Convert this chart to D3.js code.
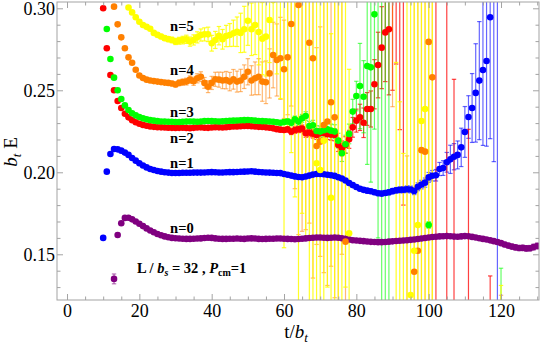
<!DOCTYPE html>
<html><head><meta charset="utf-8">
<script src="https://cdn.jsdelivr.net/npm/d3@7"></script>
<style>body{margin:0;background:#fff}svg{display:block}</style>
</head><body><svg id="c" width="540" height="345"></svg>
<script>
// ---- data: [t/b_t, b_t E, error] ----
const n0 = [[14,0.1618,0.0010],[15,0.1689,0.0008],[16,0.1722,0.0006],[17,0.1723,0.0005],[18,0.1713,0.0005],[19,0.1700,0.0005],[20,0.1686,0.0005],[21,0.1672,0.0005],[22,0.1658,0.0005],[23,0.1645,0.0005],[24,0.1634,0.0005],[25,0.1624,0.0005],[26,0.1616,0.0005],[27,0.1609,0.0005],[28,0.1604,0.0005],[29,0.1600,0.0005],[30,0.1598,0.0005],[31,0.1596,0.0005],[32,0.1595,0.0005],[33,0.1594,0.0005],[34,0.1594,0.0005],[35,0.1595,0.0005],[36,0.1596,0.0005],[37,0.1597,0.0005],[38,0.1599,0.0005],[39,0.1601,0.0005],[40,0.1600,0.0005],[41,0.1597,0.0005],[42,0.1595,0.0005],[43,0.1594,0.0005],[44,0.1594,0.0005],[45,0.1595,0.0005],[46,0.1595,0.0005],[47,0.1596,0.0005],[48,0.1595,0.0005],[49,0.1594,0.0005],[50,0.1596,0.0005],[51,0.1597,0.0005],[52,0.1596,0.0005],[53,0.1594,0.0005],[54,0.1593,0.0005],[55,0.1594,0.0005],[56,0.1595,0.0005],[57,0.1595,0.0005],[58,0.1596,0.0005],[59,0.1596,0.0005],[60,0.1595,0.0006],[61,0.1594,0.0006],[62,0.1593,0.0006],[63,0.1592,0.0006],[64,0.1593,0.0006],[65,0.1595,0.0006],[66,0.1597,0.0006],[67,0.1599,0.0006],[68,0.1601,0.0006],[69,0.1602,0.0006],[70,0.1602,0.0007],[71,0.1601,0.0007],[72,0.1600,0.0007],[73,0.1601,0.0007],[74,0.1602,0.0007],[75,0.1601,0.0007],[76,0.1598,0.0007],[77,0.1594,0.0007],[78,0.1590,0.0007],[79,0.1586,0.0007],[80,0.1584,0.0007],[81,0.1582,0.0007],[82,0.1580,0.0007],[83,0.1578,0.0007],[84,0.1576,0.0007],[85,0.1575,0.0007],[86,0.1574,0.0007],[87,0.1574,0.0007],[88,0.1575,0.0007],[89,0.1577,0.0007],[90,0.1579,0.0008],[91,0.1581,0.0008],[92,0.1583,0.0008],[93,0.1584,0.0008],[94,0.1586,0.0008],[95,0.1588,0.0008],[96,0.1590,0.0008],[97,0.1593,0.0008],[98,0.1596,0.0008],[99,0.1599,0.0008],[100,0.1602,0.0008],[101,0.1605,0.0008],[102,0.1607,0.0008],[103,0.1609,0.0008],[104,0.1610,0.0008],[105,0.1611,0.0009],[106,0.1610,0.0009],[107,0.1608,0.0009],[108,0.1607,0.0009],[109,0.1609,0.0009],[110,0.1611,0.0010],[111,0.1610,0.0010],[112,0.1606,0.0010],[113,0.1602,0.0010],[114,0.1598,0.0010],[115,0.1594,0.0011],[116,0.1590,0.0011],[117,0.1585,0.0012],[118,0.1580,0.0012],[119,0.1575,0.0013],[120,0.1568,0.0013],[121,0.1560,0.0014],[122,0.1553,0.0014],[123,0.1547,0.0015],[124,0.1542,0.0015],[125,0.1538,0.0016],[126,0.1539,0.0016],[127,0.1536,0.0017],[128,0.1537,0.0017],[129,0.1544,0.0018],[130,0.1551,0.0018]];
const n1 = [[10,0.1600,0.0005],[11,0.2004,0.0004],[12,0.2112,0.0004],[13,0.2142,0.0004],[14,0.2140,0.0004],[15,0.2132,0.0004],[16,0.2120,0.0004],[17,0.2106,0.0004],[18,0.2087,0.0004],[19,0.2071,0.0004],[20,0.2055,0.0004],[21,0.2041,0.0004],[22,0.2030,0.0004],[23,0.2020,0.0004],[24,0.2014,0.0004],[25,0.2008,0.0004],[26,0.2004,0.0004],[27,0.2000,0.0005],[28,0.1998,0.0005],[29,0.1996,0.0005],[30,0.1996,0.0005],[31,0.1996,0.0005],[32,0.1997,0.0005],[33,0.1997,0.0005],[34,0.1997,0.0005],[35,0.1998,0.0005],[36,0.1998,0.0005],[37,0.1998,0.0005],[38,0.1999,0.0005],[39,0.2000,0.0005],[40,0.2001,0.0005],[41,0.2000,0.0005],[42,0.1999,0.0005],[43,0.1999,0.0005],[44,0.2000,0.0005],[45,0.2001,0.0005],[46,0.2001,0.0006],[47,0.2002,0.0006],[48,0.2003,0.0006],[49,0.2004,0.0006],[50,0.2005,0.0006],[51,0.2006,0.0006],[52,0.2004,0.0006],[53,0.2002,0.0006],[54,0.2000,0.0006],[55,0.1999,0.0006],[56,0.1998,0.0007],[57,0.1997,0.0007],[58,0.1996,0.0007],[59,0.1995,0.0007],[60,0.1990,0.0007],[61,0.1985,0.0008],[62,0.1980,0.0008],[63,0.1975,0.0008],[64,0.1971,0.0008],[65,0.1970,0.0008],[66,0.1974,0.0008],[67,0.1980,0.0009],[68,0.1986,0.0009],[69,0.1990,0.0009],[70,0.1990,0.0009],[71,0.1988,0.0009],[72,0.1985,0.0010],[73,0.1982,0.0010],[74,0.1978,0.0010],[75,0.1970,0.0010],[76,0.1962,0.0011],[77,0.1950,0.0011],[78,0.1935,0.0011],[79,0.1922,0.0012],[80,0.1910,0.0012],[81,0.1900,0.0012],[82,0.1893,0.0013],[83,0.1888,0.0013],[84,0.1884,0.0013],[85,0.1878,0.0014],[86,0.1872,0.0014],[87,0.1870,0.0015],[88,0.1874,0.0015],[89,0.1878,0.0016],[90,0.1885,0.0016],[91,0.1890,0.0017],[92,0.1893,0.0018],[93,0.1894,0.0019],[94,0.1897,0.0020],[95,0.1895,0.0021],[96,0.1886,0.0022],[97,0.1912,0.0024],[98,0.1925,0.0026],[99,0.1937,0.0028],[100,0.1969,0.0030],[101,0.1979,0.0032],[102,0.1982,0.0035],[103,0.2020,0.0040],[104,0.2026,0.0045],[105,0.2061,0.0060],[106,0.2079,0.0086],[107,0.2095,0.0080],[108,0.2106,0.0085],[109,0.2152,0.0117],[110,0.2246,0.0155],[111,0.2337,0.0130],[112,0.2392,0.0210],[113,0.2484,0.0300],[114,0.2559,0.0360],[115,0.2624,0.0460],[116,0.2679,0.0520],[117,0.2945,0.0740],[118,0.3100,0.1035],[119,0.3300,0.2500]];
const n2 = [[10,0.3000,0.0008],[11,0.2756,0.0006],[12,0.2593,0.0006],[13,0.2500,0.0005],[14,0.2435,0.0005],[15,0.2392,0.0005],[16,0.2357,0.0005],[17,0.2335,0.0005],[18,0.2318,0.0005],[19,0.2305,0.0005],[20,0.2296,0.0005],[21,0.2289,0.0005],[22,0.2284,0.0005],[23,0.2280,0.0005],[24,0.2277,0.0005],[25,0.2275,0.0005],[26,0.2274,0.0005],[27,0.2273,0.0005],[28,0.2272,0.0005],[29,0.2271,0.0005],[30,0.2270,0.0006],[31,0.2271,0.0006],[32,0.2272,0.0006],[33,0.2270,0.0006],[34,0.2269,0.0006],[35,0.2271,0.0006],[36,0.2273,0.0006],[37,0.2274,0.0006],[38,0.2272,0.0006],[39,0.2271,0.0006],[40,0.2273,0.0007],[41,0.2275,0.0007],[42,0.2274,0.0007],[43,0.2273,0.0007],[44,0.2275,0.0007],[45,0.2277,0.0007],[46,0.2279,0.0007],[47,0.2280,0.0008],[48,0.2281,0.0008],[49,0.2282,0.0008],[50,0.2283,0.0008],[51,0.2281,0.0008],[52,0.2279,0.0009],[53,0.2277,0.0009],[54,0.2276,0.0009],[55,0.2274,0.0010],[56,0.2272,0.0010],[57,0.2268,0.0011],[58,0.2263,0.0012],[59,0.2260,0.0013],[60,0.2258,0.0014],[61,0.2262,0.0016],[62,0.2248,0.0018],[63,0.2258,0.0020],[64,0.2262,0.0020],[65,0.2266,0.0022],[66,0.2238,0.0024],[67,0.2242,0.0025],[68,0.2235,0.0026],[69,0.2228,0.0028],[70,0.2238,0.0030],[71,0.2240,0.0030],[72,0.2232,0.0032],[73,0.2230,0.0034],[74,0.2228,0.0036],[75,0.2167,0.0040],[76,0.2146,0.0045],[77,0.2167,0.0050],[78,0.2201,0.0055],[79,0.2274,0.0060],[80,0.2315,0.0070],[81,0.2335,0.0080],[82,0.2302,0.0090],[83,0.2386,0.0100],[84,0.2386,0.0110],[85,0.2537,0.0150],[86,0.2654,0.0200],[87,0.2760,0.0250],[88,0.2853,0.0300],[89,0.2872,0.0400],[90,0.3100,0.0600],[91,0.3100,0.0440],[92,0.3200,0.0940],[93,0.3300,0.1500],[102,0.3300,0.2500],[105,0.3300,0.2500],[107,0.1000,0.1567],[111,0.1000,0.1262],[117,0.1000,0.0368]];
const n3 = [[11,0.2874,0.0006],[12,0.2691,0.0006],[13,0.2577,0.0005],[14,0.2500,0.0005],[15,0.2447,0.0005],[16,0.2408,0.0005],[17,0.2380,0.0005],[18,0.2360,0.0005],[19,0.2347,0.0005],[20,0.2337,0.0005],[21,0.2329,0.0005],[22,0.2323,0.0005],[23,0.2318,0.0005],[24,0.2315,0.0005],[25,0.2312,0.0005],[26,0.2310,0.0005],[27,0.2309,0.0005],[28,0.2308,0.0005],[29,0.2308,0.0005],[30,0.2307,0.0006],[31,0.2307,0.0006],[32,0.2308,0.0006],[33,0.2309,0.0006],[34,0.2310,0.0006],[35,0.2309,0.0006],[36,0.2308,0.0006],[37,0.2310,0.0006],[38,0.2312,0.0006],[39,0.2313,0.0006],[40,0.2312,0.0007],[41,0.2311,0.0007],[42,0.2310,0.0007],[43,0.2311,0.0007],[44,0.2313,0.0007],[45,0.2314,0.0007],[46,0.2315,0.0007],[47,0.2316,0.0008],[48,0.2317,0.0008],[49,0.2318,0.0008],[50,0.2319,0.0008],[51,0.2317,0.0008],[52,0.2315,0.0009],[53,0.2313,0.0009],[54,0.2312,0.0009],[55,0.2311,0.0010],[56,0.2310,0.0010],[57,0.2308,0.0011],[58,0.2305,0.0012],[59,0.2302,0.0013],[60,0.2306,0.0014],[61,0.2310,0.0016],[62,0.2302,0.0018],[63,0.2323,0.0020],[64,0.2309,0.0022],[65,0.2329,0.0024],[66,0.2343,0.0026],[67,0.2282,0.0028],[68,0.2287,0.0030],[69,0.2252,0.0032],[70,0.2248,0.0034],[71,0.2256,0.0036],[72,0.2262,0.0038],[73,0.2254,0.0040],[74,0.2248,0.0042],[75,0.2193,0.0045],[76,0.2116,0.0050],[77,0.2171,0.0055],[78,0.2234,0.0060],[79,0.2370,0.0075],[80,0.2465,0.0090],[81,0.2526,0.0260],[82,0.2461,0.0220],[83,0.2648,0.0600],[84,0.2640,0.0700],[85,0.2963,0.0700],[86,0.3100,0.1500],[87,0.3200,0.2000],[88,0.3300,0.2500],[89,0.3400,0.2500],[100,0.1679,0.0020],[120,0.1100,0.0315]];
const n4 = [[13,0.3010,0.0007],[14,0.2902,0.0007],[15,0.2823,0.0007],[16,0.2756,0.0007],[17,0.2701,0.0007],[18,0.2668,0.0007],[19,0.2625,0.0008],[20,0.2590,0.0008],[21,0.2575,0.0008],[22,0.2565,0.0009],[23,0.2560,0.0009],[24,0.2556,0.0010],[25,0.2553,0.0010],[26,0.2550,0.0011],[27,0.2547,0.0012],[28,0.2545,0.0013],[29,0.2541,0.0014],[30,0.2535,0.0015],[31,0.2545,0.0017],[32,0.2550,0.0019],[33,0.2553,0.0021],[34,0.2565,0.0023],[35,0.2555,0.0025],[36,0.2573,0.0028],[37,0.2583,0.0030],[38,0.2545,0.0033],[39,0.2522,0.0036],[40,0.2545,0.0040],[41,0.2567,0.0043],[42,0.2565,0.0046],[43,0.2560,0.0050],[44,0.2562,0.0053],[45,0.2553,0.0056],[46,0.2567,0.0060],[47,0.2553,0.0064],[48,0.2560,0.0068],[49,0.2583,0.0072],[50,0.2613,0.0080],[51,0.2560,0.0090],[52,0.2573,0.0100],[53,0.2583,0.0110],[54,0.2553,0.0120],[55,0.2549,0.0130],[56,0.2603,0.0150],[57,0.2715,0.0200],[58,0.2685,0.0220],[59,0.2695,0.0250],[60,0.2628,0.0300],[61,0.2701,0.0350],[62,0.2904,0.0500],[63,0.3100,0.1200],[64,0.3020,0.1400],[65,0.3100,0.1460],[66,0.3200,0.1550],[67,0.2790,0.1100],[68,0.2695,0.1340],[69,0.2160,0.0600],[70,0.2187,0.0700],[71,0.2288,0.0900],[72,0.2310,0.1000],[73,0.2427,0.1000],[74,0.2335,0.1100],[75,0.3200,0.2000],[76,0.3300,0.1800],[77,0.1577,0.0600],[90,0.3400,0.1000],[94,0.1000,0.1100],[96,0.1394,0.2000],[97,0.1522,0.2000],[98,0.2135,0.1500],[99,0.2126,0.1500],[100,0.2795,0.2000],[101,0.2579,0.2000],[120,0.1050,0.0200]];
const n5 = [[17,0.3005,0.0008],[18,0.2975,0.0008],[19,0.2945,0.0008],[20,0.2918,0.0009],[21,0.2898,0.0009],[22,0.2887,0.0010],[23,0.2875,0.0010],[24,0.2850,0.0011],[25,0.2838,0.0012],[26,0.2828,0.0013],[27,0.2818,0.0014],[28,0.2812,0.0015],[29,0.2807,0.0017],[30,0.2798,0.0019],[31,0.2802,0.0021],[32,0.2806,0.0023],[33,0.2811,0.0025],[34,0.2797,0.0028],[35,0.2807,0.0031],[36,0.2823,0.0034],[37,0.2837,0.0037],[38,0.2841,0.0040],[39,0.2841,0.0044],[40,0.2787,0.0048],[41,0.2807,0.0052],[42,0.2833,0.0056],[43,0.2811,0.0060],[44,0.2831,0.0065],[45,0.2837,0.0070],[46,0.2848,0.0080],[47,0.2857,0.0090],[48,0.2850,0.0120],[49,0.2872,0.0140],[50,0.2924,0.0150],[51,0.2872,0.0160],[52,0.2898,0.0180],[53,0.2855,0.0200],[54,0.2815,0.0220],[55,0.2827,0.0240],[56,0.2929,0.0260],[57,0.3050,0.0350],[58,0.3100,0.0500],[59,0.3150,0.0700],[60,0.3200,0.1660],[61,0.3180,0.0900],[62,0.3220,0.1100],[63,0.3250,0.1400],[64,0.3300,0.2500],[65,0.3250,0.1500],[66,0.3300,0.1700],[67,0.3350,0.2500],[68,0.3300,0.2200],[69,0.2055,0.1000],[70,0.2014,0.1100],[71,0.2193,0.1000],[72,0.3300,0.2000],[73,0.1845,0.1000],[74,0.3400,0.2500],[75,0.3300,0.2500],[76,0.3400,0.2200],[77,0.3300,0.2000],[78,0.1628,0.1000],[91,0.1000,0.1670],[92,0.1000,0.1430],[93,0.1000,0.1115],[94,0.3400,0.2500],[95,0.1252,0.2000],[96,0.1522,0.2000],[97,0.1679,0.2000],[98,0.2313,0.2000],[99,0.2386,0.2000],[100,0.3400,0.2500],[101,0.3300,0.2500],[120,0.1050,0.0260]];
const legendPoint = [13,0.1350,0.0030];

const seriesNames = ["n=0","n=1","n=2","n=3","n=4","n=5"];
const seriesColors = ["#800080","#0000ff","#ff0000","#00ff00","#ff8000","#ffff00"];
const xTickValues = [0,20,40,60,80,100,120];
const yTickValues = [0.15,0.20,0.25,0.30];
const xDomain = [-2.77,130.5];
const yDomain = [0.12213,0.30384];
// label anchors in data coordinates
const labelT = [28.5,28.5,28.5,28.5,28.5,28.5];
const labelV = [0.1630,0.2026,0.2179,0.2337,0.2593,0.2862];

const allSeries = [n0,n1,n2,n3,n4,n5];
const L=57,R=539,T=2,B=300;
const serif = "'Liberation Serif','Times New Roman',Times,serif";
const svg = d3.select("#c");
const x = d3.scaleLinear().domain(xDomain).range([L,R]);
const y = d3.scaleLinear().domain(yDomain).range([B,T]);

svg.append("defs").append("clipPath").attr("id","clip")
  .append("rect").attr("x",L).attr("y",T).attr("width",R-L).attr("height",B-T);

// error bars
const barOpacity = [0.55,0.6,0.75,0.6,0.55,0.85];
const gBars = svg.append("g").attr("clip-path","url(#clip)");
allSeries.forEach((s,i)=>{
  const g = gBars.append("g").attr("stroke",seriesColors[i]).attr("stroke-opacity",barOpacity[i]).attr("stroke-width",1.2);
  s.forEach(d=>{
    const xx=x(d[0]), y1=y(d[1]-d[2]), y2=y(d[1]+d[2]);
    g.append("line").attr("x1",xx).attr("x2",xx).attr("y1",y1).attr("y2",y2);
    g.append("line").attr("x1",xx-2.2).attr("x2",xx+2.2).attr("y1",y1).attr("y2",y1);
    g.append("line").attr("x1",xx-2.2).attr("x2",xx+2.2).attr("y1",y2).attr("y2",y2);
  });
});
// points
const gPts = svg.append("g").attr("clip-path","url(#clip)");
allSeries.forEach((s,i)=>{
  gPts.append("g").attr("fill",seriesColors[i]).selectAll("circle").data(s).join("circle")
    .attr("cx",d=>x(d[0])).attr("cy",d=>y(d[1])).attr("r",3.3);
});

// frame and ticks
const frameColor = "#a3a3a3";
function styleAxis(g){
  g.select(".domain").remove();
  g.selectAll(".tick line").attr("stroke",frameColor);
  g.selectAll(".tick text").attr("font-family",serif).attr("font-size",18).attr("fill","#000");
}
const xMinor = d3.range(0,131,5).filter(v=>v%20!==0);
const yMinor = d3.range(13,31).map(v=>v/100).filter(v=>!yTickValues.some(t=>Math.abs(t-v)<1e-9));
svg.append("g").attr("transform",`translate(0,${B})`).call(d3.axisBottom(x).tickValues(xTickValues).tickSize(-6).tickPadding(4).tickFormat(d3.format("d"))).call(styleAxis);
svg.append("g").attr("transform",`translate(0,${B})`).call(d3.axisBottom(x).tickValues(xMinor).tickSize(-3.5).tickFormat("")).call(styleAxis);
svg.append("g").attr("transform",`translate(0,${T})`).call(d3.axisTop(x).tickValues(xTickValues).tickSize(-6).tickFormat("")).call(styleAxis);
svg.append("g").attr("transform",`translate(0,${T})`).call(d3.axisTop(x).tickValues(xMinor).tickSize(-3.5).tickFormat("")).call(styleAxis);
svg.append("g").attr("transform",`translate(${L},0)`).call(d3.axisLeft(y).tickValues(yTickValues).tickSize(-6).tickPadding(2).tickFormat(d3.format(".2f"))).call(styleAxis);
svg.append("g").attr("transform",`translate(${L},0)`).call(d3.axisLeft(y).tickValues(yMinor).tickSize(-3.5).tickFormat("")).call(styleAxis);
svg.append("g").attr("transform",`translate(${R},0)`).call(d3.axisRight(y).tickValues(yTickValues).tickSize(-6).tickFormat("")).call(styleAxis);
svg.append("g").attr("transform",`translate(${R},0)`).call(d3.axisRight(y).tickValues(yMinor).tickSize(-3.5).tickFormat("")).call(styleAxis);
svg.append("rect").attr("x",L).attr("y",T).attr("width",R-L).attr("height",B-T)
  .attr("fill","none").attr("stroke",frameColor).attr("stroke-width",1);

// series labels
seriesNames.forEach((n,i)=>{
  svg.append("text").attr("x",x(labelT[i])).attr("y",y(labelV[i]))
    .attr("font-family",serif).attr("font-weight","bold").attr("font-size",14.5).text(n);
});

// legend
const lg = svg.append("g");
lg.append("line").attr("x1",x(legendPoint[0])).attr("x2",x(legendPoint[0]))
  .attr("y1",y(legendPoint[1]-legendPoint[2])).attr("y2",y(legendPoint[1]+legendPoint[2]))
  .attr("stroke",seriesColors[0]).attr("stroke-opacity",0.55).attr("stroke-width",1.2);
[legendPoint[1]-legendPoint[2],legendPoint[1]+legendPoint[2]].forEach(v=>{
  lg.append("line").attr("x1",x(legendPoint[0])-2.2).attr("x2",x(legendPoint[0])+2.2).attr("y1",y(v)).attr("y2",y(v))
    .attr("stroke",seriesColors[0]).attr("stroke-opacity",0.55).attr("stroke-width",1.2);
});
lg.append("circle").attr("cx",x(legendPoint[0])).attr("cy",y(legendPoint[1])).attr("r",3.3).attr("fill",seriesColors[0]);
const lt = lg.append("text").attr("x",137).attr("y",273).attr("font-family",serif).attr("font-weight","bold").attr("font-size",14.5);
lt.append("tspan").text("L / ");
lt.append("tspan").attr("font-style","italic").text("b");
lt.append("tspan").attr("font-style","italic").attr("font-size",10).attr("dy",3).text("s");
lt.append("tspan").attr("dy",-3).text(" = 32 , ");
lt.append("tspan").attr("font-style","italic").text("P");
lt.append("tspan").attr("font-size",10).attr("dy",3).text("cm");
lt.append("tspan").attr("dy",-3).text("=1");

// axis titles
const yl = svg.append("text").attr("transform","translate(17,152) rotate(-90)")
  .attr("text-anchor","middle").attr("font-family",serif).attr("font-size",19);
yl.append("tspan").attr("font-style","italic").text("b");
yl.append("tspan").attr("font-style","italic").attr("font-size",13).attr("dy",4).text("t");
yl.append("tspan").attr("dy",-4).text(" E");
const xl = svg.append("text").attr("x",296).attr("y",338)
  .attr("text-anchor","middle").attr("font-family",serif).attr("font-size",19);
xl.append("tspan").text("t/");
xl.append("tspan").attr("font-style","italic").text("b");
xl.append("tspan").attr("font-style","italic").attr("font-size",13).attr("dy",4).text("t");
</script></body></html>
